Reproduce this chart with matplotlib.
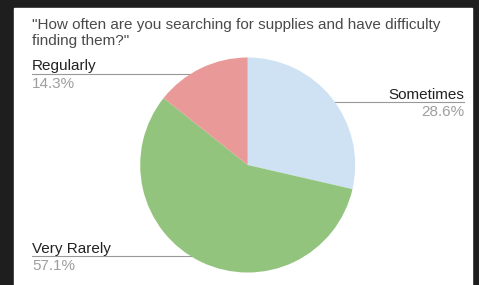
import matplotlib.pyplot as plt
import numpy as np

# data
labels = ["Sometimes", "Very Rarely", "Regularly"]
values = [28.6, 57.1, 14.3]
colors = ["#cfe2f3", "#93c47d", "#ea9999"]
title_lines = ["\"How often are you searching for supplies and have difficulty",
               "finding them?\""]

W, H = 479, 285
plt.rcParams['font.family'] = ['Liberation Sans', 'DejaVu Sans']

fig = plt.figure(figsize=(W / 100, H / 100), dpi=100, facecolor="#1e1e1e")

# background panel in pixel coords (y down)
bg = fig.add_axes([0, 0, 1, 1])
bg.set_xlim(0, W)
bg.set_ylim(H, 0)
bg.axis("off")
bg.add_patch(plt.Rectangle((14, 8), 458, H - 8, color="white", zorder=0))

# pie
cx, cy, R = 247.7, 165.0, 107.5
ax = fig.add_axes([(cx - R) / W, (H - cy - R) / H, 2 * R / W, 2 * R / H])
wedges, _ = ax.pie(values, colors=colors, startangle=90, counterclock=False,
                   wedgeprops=dict(linewidth=0))
ax.set_xlim(-1, 1)
ax.set_ylim(-1, 1)
ax.axis("off")

for i, line in enumerate(title_lines):
    bg.text(32, 29 + 16 * i, line, fontsize=11, color="#4a4a4a", va="baseline")

for w, lab, v in zip(wedges, labels, values):
    mid = np.deg2rad((w.theta1 + w.theta2) / 2)
    px = cx + 0.94 * R * np.cos(mid)
    py = cy - 0.94 * R * np.sin(mid)
    if px > cx:
        x_end, ha = 464, "right"
    else:
        x_end, ha = 32, "left"
    bg.plot([px, x_end], [py, py], color="#999999", lw=0.8)
    bg.plot([px], [py], "o", color="#999999", ms=2.5)
    bg.text(x_end, py - 3.5, lab, fontsize=11, color="#222222", ha=ha,
            va="baseline")
    bg.text(x_end, py + 14, f"{v:.1f}%", fontsize=11, color="#9e9e9e",
            ha=ha, va="baseline")

fig.savefig("out.png", dpi=100, facecolor=fig.get_facecolor())
